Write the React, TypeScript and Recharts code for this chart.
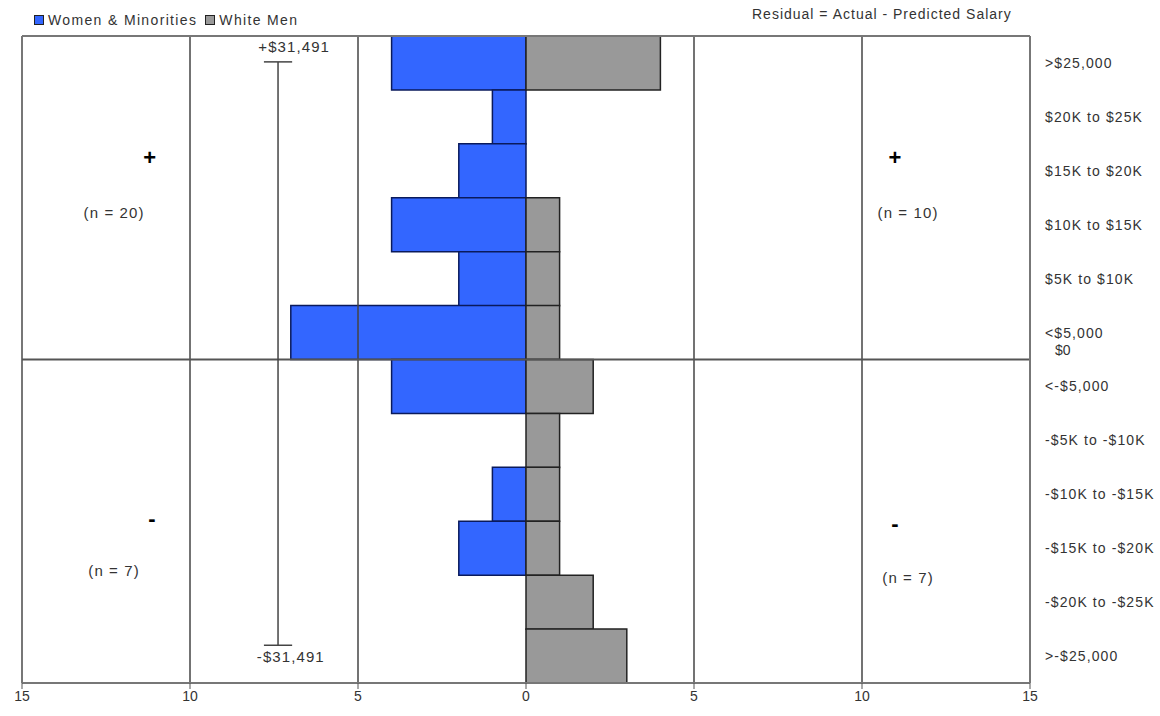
import React from "react";
import {
  BarChart,
  Bar,
  XAxis,
  YAxis,
  ReferenceLine,
  ReferenceDot,
} from "recharts";

// residual bands, top to bottom
const categories = [
  ">$25,000",
  "$20K to $25K",
  "$15K to $20K",
  "$10K to $15K",
  "$5K to $10K",
  "<$5,000",
  "<-$5,000",
  "-$5K to -$10K",
  "-$10K to -$15K",
  "-$15K to -$20K",
  "-$20K to -$25K",
  ">-$25,000",
];
// counts; women & minorities drawn to the left (negative)
const womenMinorities = [-4, -1, -2, -4, -2, -7, -4, 0, -1, -2, 0, 0];
const whiteMen = [4, 0, 0, 1, 1, 1, 2, 1, 1, 1, 2, 3];

const xTicks = [-15, -10, -5, 0, 5, 10, 15];
const gridLines = [-15, -10, -5, 5, 10];

// notes placed in data units (x = count axis, y = hidden row axis, 0 at top .. 12 at bottom)
const notes = [
  { x: -11.2, y: 2.24, text: "+", big: true },
  { x: -12.26, y: 3.27, text: "(n = 20)", big: false },
  { x: -11.13, y: 8.94, text: "-", big: true },
  { x: -12.26, y: 9.91, text: "(n = 7)", big: false },
  { x: 10.98, y: 2.24, text: "+", big: true },
  { x: 11.37, y: 3.27, text: "(n = 10)", big: false },
  { x: 10.98, y: 9.04, text: "-", big: true },
  { x: 11.37, y: 10.04, text: "(n = 7)", big: false },
  { x: -6.9, y: 0.2, text: "+$31,491", big: false },
  { x: -7.0, y: 11.52, text: "-$31,491", big: false },
];

const rangeX = -7.38;
const rangeTop = 0.48;
const rangeBottom = 11.3;
const capHalf = 0.42;

const data = categories.map((cat, i) => ({
  cat,
  row: i + 0.5,
  women: womenMinorities[i],
  men: whiteMen[i],
}));

const FONT = '"Liberation Sans", Arial, sans-serif';
const TEXT = "#333";

function LegendBox() {
  const item = (fill: string, label: string) => (
    <span style={{ display: "inline-flex", alignItems: "center", marginRight: 8 }}>
      <span
        style={{
          width: 8,
          height: 8,
          background: fill,
          border: "1.5px solid #222",
          marginRight: 4,
          display: "inline-block",
        }}
      />
      {label}
    </span>
  );
  return (
    <div
      style={{
        position: "absolute",
        left: 34,
        top: 12,
        fontFamily: FONT,
        fontSize: 14,
        color: TEXT,
        letterSpacing: 1.35,
        zIndex: 2,
      }}
    >
      {item("#3366ff", "Women & Minorities")}
      {item("#999999", "White Men")}
    </div>
  );
}

export default function App() {
  return (
    <div style={{ position: "absolute", left: 0, top: 0, width: 1160, height: 716, background: "#fff" }}>
      <LegendBox />
      <div
        style={{
          position: "absolute",
          left: 752,
          top: 6,
          fontFamily: FONT,
          fontSize: 14,
          color: TEXT,
          letterSpacing: 1.0,
          zIndex: 2,
        }}
      >
        Residual = Actual - Predicted Salary
      </div>
      <BarChart
        width={1160}
        height={716}
        data={data}
        layout="vertical"
        stackOffset="sign"
        barCategoryGap={0}
        margin={{ top: 36, right: 0, bottom: 3, left: 22 }}
      >
        <XAxis
          type="number"
          domain={[-15, 15]}
          ticks={xTicks}
          tickFormatter={(v: number) => String(Math.abs(v))}
          axisLine={{ stroke: "#777", strokeWidth: 2 }}
          tickLine={{ stroke: "#555" }}
          tickSize={6}
          tick={{ fill: TEXT, fontSize: 14, fontFamily: FONT }}
          height={30}
        />
        <YAxis
          type="category"
          dataKey="cat"
          orientation="right"
          width={130}
          axisLine={{ stroke: "#777", strokeWidth: 2 }}
          tickLine={false}
          tickSize={0}
          tickMargin={15}
          tick={{ fill: TEXT, fontSize: 14, fontFamily: FONT, textAnchor: "start", letterSpacing: 1.1 }}
        />
        <YAxis yAxisId="num" dataKey="row" type="number" domain={[0, 12]} allowDataOverflow hide />

        {gridLines.map((v) => (
          <ReferenceLine key={v} x={v} stroke={v === -15 ? "#777" : "#444"} strokeWidth={v === -15 ? 2 : 1.5} />
        ))}
        <ReferenceLine yAxisId="num" y={0} stroke="#777" strokeWidth={2} />

        <Bar
          dataKey="women"
          name="Women & Minorities"
          stackId="a"
          fill="#3366ff"
          stroke="#0a1a5c"
          strokeWidth={1.5}
          isAnimationActive={false}
        />
        <Bar
          dataKey="men"
          name="White Men"
          stackId="a"
          fill="#999999"
          stroke="#222"
          strokeWidth={1.5}
          isAnimationActive={false}
        />

        <ReferenceLine
          yAxisId="num"
          y={6}
          stroke="#555"
          strokeWidth={2}
          label={{ value: "$0", position: "right", offset: 25, dy: -9, fill: TEXT, fontSize: 14, fontFamily: FONT }}
        />

        <ReferenceLine
          yAxisId="num"
          segment={[
            { x: rangeX, y: rangeTop },
            { x: rangeX, y: rangeBottom },
          ]}
          stroke="#444"
          strokeWidth={1.5}
        />
        <ReferenceLine
          yAxisId="num"
          segment={[
            { x: rangeX - capHalf, y: rangeTop },
            { x: rangeX + capHalf, y: rangeTop },
          ]}
          stroke="#444"
          strokeWidth={1.5}
        />
        <ReferenceLine
          yAxisId="num"
          segment={[
            { x: rangeX - capHalf, y: rangeBottom },
            { x: rangeX + capHalf, y: rangeBottom },
          ]}
          stroke="#444"
          strokeWidth={1.5}
        />

        {notes.map((n, i) => (
          <ReferenceDot
            key={i}
            yAxisId="num"
            x={n.x}
            y={n.y}
            r={0}
            fill="none"
            stroke="none"
            label={{
              value: n.text,
              position: "center",
              fill: n.big ? "#000" : TEXT,
              fontSize: n.big ? 22 : 15,
              fontWeight: n.big ? 700 : 400,
              fontFamily: FONT,
              letterSpacing: n.big ? 0 : 1.1,
            }}
          />
        ))}
      </BarChart>
    </div>
  );
}
